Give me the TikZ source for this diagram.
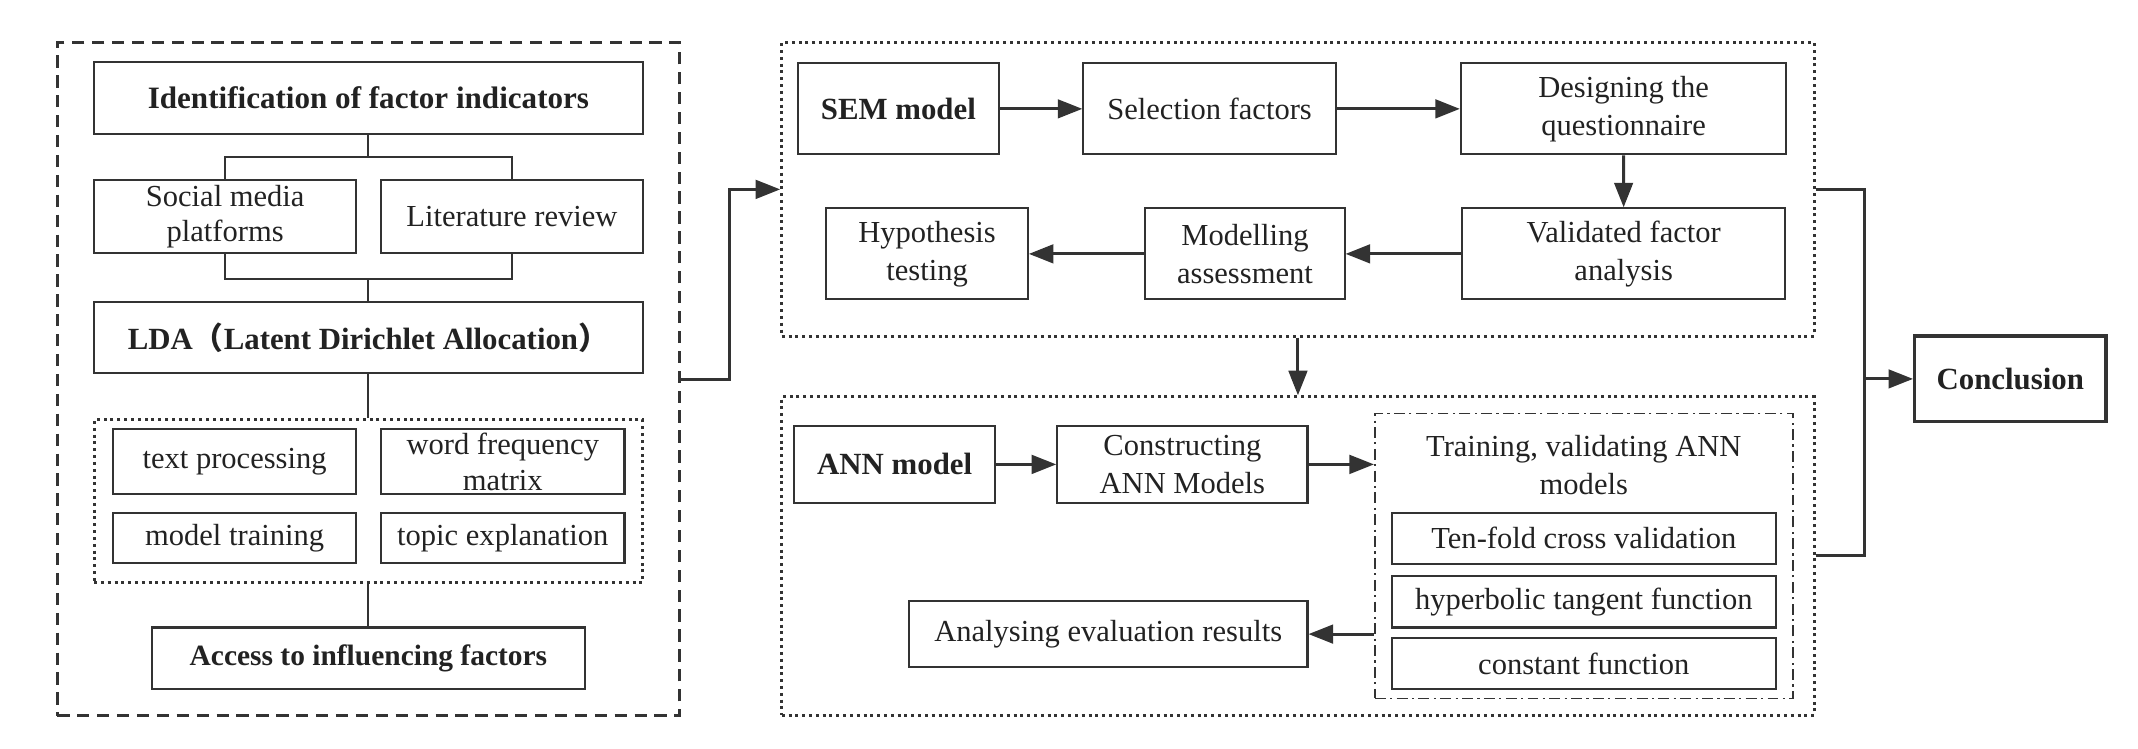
\documentclass[tikz,border=0pt]{standalone}
\usepackage{fontspec}
\setmainfont{Liberation Serif}
\newfontfamily\cjk{Noto Sans CJK SC}
\usetikzlibrary{arrows.meta}
\definecolor{ink}{HTML}{333333}
\definecolor{txt}{HTML}{222222}
\begin{document}
\begin{tikzpicture}[x=0.5pt,y=-0.5pt,
  reg/.style={font=\fontsize{11.2}{14}\selectfont},
  tight/.style={font=\fontsize{11.2}{13}\selectfont},
  hd/.style={font=\fontsize{11.3}{14}\selectfont\bfseries},
  box/.style={draw=ink, line width=0.75pt, inner sep=0pt, align=center, text=txt, reg},
  dotbox/.style={draw=ink, line width=1.1pt, dash pattern=on 1.1pt off 1.4pt, inner sep=0pt},
  dashbox/.style={draw=ink, line width=1pt, dash pattern=on 4.5pt off 2.8pt, inner sep=0pt},
  dashdotbox/.style={draw=ink, line width=0.6pt, dash pattern=on 4pt off 1.6pt on 0.8pt off 1.6pt, inner sep=0pt},
  thin/.style={draw=ink, line width=0.75pt},
  arr/.style={draw=ink, line width=1.1pt, -{Triangle[length=9pt,width=6.8pt]}},
  link/.style={draw=ink, line width=1.1pt}
]
\useasboundingbox (0,0) rectangle (1568,549);

% ---------- left part ----------
\node[dashbox, minimum width=228.3pt, minimum height=246.85pt] (leftbox) at (270.3,278.15) {};
\node[box, font=\fontsize{11.4}{14}\selectfont\bfseries, minimum width=201.2pt, minimum height=26.55pt] (ident) at (270.2,71.75) {Identification of factor indicators};
\node[box, tight, minimum width=96.15pt, minimum height=26.75pt] (social) at (165.15,159.05) {Social media\\platforms};
\node[box, minimum width=95.95pt, minimum height=26.75pt] (lit) at (375.45,159.05) {Literature review};
\node[box, hd, minimum width=201.2pt, minimum height=26.25pt] (lda) at (270.2,247.55) {LDA{\cjk （}Latent Dirichlet Allocation{\cjk ）}};
\node[dotbox, minimum width=201.2pt, minimum height=59.7pt] (ldabox) at (270.2,367.7) {};
\node[box, minimum width=89.25pt, minimum height=23.85pt] (textproc) at (172.05,338.75) {text processing};
\node[box, tight, minimum width=89.25pt, minimum height=23.85pt] (wordfreq) at (368.75,338.75) {word frequency\\matrix};
\node[box, minimum width=89.25pt, minimum height=18.35pt] (modeltrain) at (172.05,394.85) {model training};
\node[box, minimum width=89.25pt, minimum height=18.35pt] (topic) at (368.75,394.85) {topic explanation};
\node[box, font=\fontsize{10.8}{14}\selectfont\bfseries, minimum width=158.8pt, minimum height=22.7pt] (access) at (270.2,482.9) {Access to influencing factors};

\coordinate (b1) at (270.2,115);
\coordinate (b2) at (270.2,204.4);
\draw[thin] (ident.south) -- (b1);
\draw[thin] (social.north) |- (b1) -| (lit.north);
\draw[thin] (social.south) |- (b2) -| (lit.south);
\draw[thin] (b2) -- (lda.north);
\draw[thin] (lda.south) -- (ldabox.north);
\draw[thin] (ldabox.south) -- (access.north);

% ---------- SEM part ----------
\node[dotbox, minimum width=378.6pt, minimum height=107.6pt] (sembox) at (951.9,138.9) {};
\node[box, hd, minimum width=73.75pt, minimum height=33.35pt] (sem) at (658.85,79.85) {SEM model};
\node[box, minimum width=92.6pt, minimum height=33.35pt] (selection) at (887.1,79.85) {Selection factors};
\node[box, minimum width=119.3pt, minimum height=33.35pt] (designing) at (1190.7,79.85) {Designing the\\questionnaire};
\node[box, minimum width=118.6pt, minimum height=33.4pt] (validated) at (1190.8,186.2) {Validated factor\\analysis};
\node[box, minimum width=73.05pt, minimum height=33.4pt] (modelling) at (913.05,186.2) {Modelling\\assessment};
\node[box, minimum width=73.9pt, minimum height=33.4pt] (hypothesis) at (679.9,186.2) {Hypothesis\\testing};

\coordinate (lj) at (535.3,278.15);
\draw[arr] (leftbox.east) -- (lj) |- (sembox.west);
\draw[arr] (sem) -- (selection);
\draw[arr] (selection) -- (designing);
\draw[arr] (designing) -- (validated);
\draw[arr] (validated) -- (modelling);
\draw[arr] (modelling) -- (hypothesis);

% ---------- ANN part ----------
\node[dotbox, minimum width=378.6pt, minimum height=116.75pt] (annbox) at (951.9,407.75) {};
\node[box, hd, minimum width=73.75pt, minimum height=28.1pt] (ann) at (656.15,340.6) {ANN model};
\node[box, minimum width=91.75pt, minimum height=28.1pt] (constructing) at (867.15,340.6) {Constructing\\ANN Models};
\node[dashdotbox, minimum width=153.25pt, minimum height=104.5pt] (dashdot) at (1161.55,407.7) {};
\node[align=center, text=txt, reg, inner sep=0pt] (training) at (1161.55,341) {Training, validating ANN\\models};
\node[box, minimum width=140.75pt, minimum height=18.85pt] (tenfold) at (1161.55,394.85) {Ten-fold cross validation};
\node[box, minimum width=140.75pt, minimum height=18.85pt] (hyper) at (1161.55,441.35) {hyperbolic tangent function};
\node[box, minimum width=140.75pt, minimum height=18.95pt] (constant) at (1161.55,486.65) {constant function};
\node[box, minimum width=146.15pt, minimum height=24.45pt] (analysing) at (812.75,465.05) {Analysing evaluation results};

\draw[arr] (sembox.south) -- (annbox.north);
\draw[arr] (ann) -- (constructing);
\draw[arr] (constructing.east) -- (constructing.east -| dashdot.west);
\draw[arr] (dashdot.west |- analysing.east) -- (analysing.east);

% ---------- conclusion ----------
\node[box, hd, line width=1.2pt, minimum width=70.15pt, minimum height=31.4pt] (conclusion) at (1474.35,277.9) {Conclusion};
\coordinate (rj) at (1367.5,277.9);
\draw[link] (sembox.east) -| (rj) |- (annbox.east);
\draw[arr] (rj) -- (conclusion.west);
\end{tikzpicture}
\end{document}
